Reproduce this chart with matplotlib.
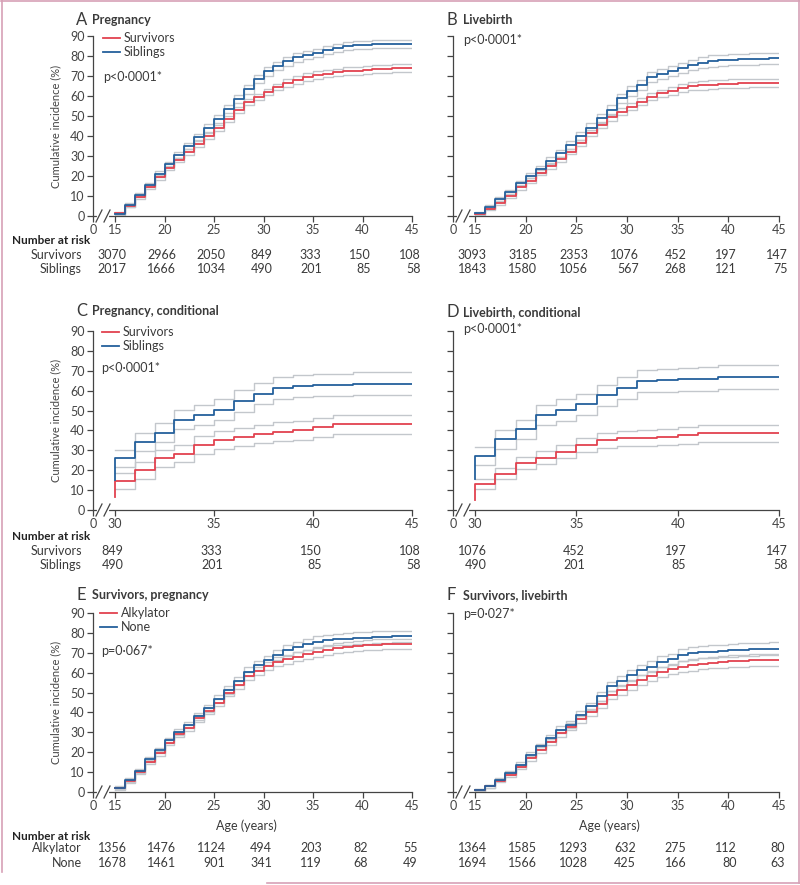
import matplotlib
matplotlib.use('Agg')
import matplotlib.pyplot as plt
from matplotlib.lines import Line2D
from matplotlib.transforms import blended_transform_factory

plt.rcParams['font.family'] = ['Lato', 'DejaVu Sans']

W, H = 800, 885
RED = '#e2424f'
BLUE = '#24609c'
CI_GREY = '#c3c7cc'
TXT = '#3a3a3a'
AXC = '#444444'
FRAME = '#d7a1b6'
GAP_PX = 22

# ── Data ─────────────────────────────────────────────────────────────────────
AGES = list(range(15, 46))
AGES_COND = list(range(30, 46))
RISK_AGES = [15, 20, 25, 30, 35, 40, 45]
RISK_AGES_COND = [30, 35, 40, 45]

# A  Pregnancy
A_SURV = [1.5, 5, 9.5, 14.5, 19.3, 24, 28, 32, 36, 40, 44, 48.5, 53, 57, 59.5, 62,
          64.5, 66.5, 68, 69.5, 70.5, 71.2, 71.8, 72.3, 72.7, 73, 73.3, 73.7, 73.8, 73.8, 73.8]
A_SIB = [1, 5.5, 10.5, 15.5, 21, 25.8, 30.3, 35, 39.5, 44, 48.5, 53.5, 58.5, 63.3, 68.5, 72.3,
         75, 77.3, 79.3, 80.5, 81.5, 83, 84, 85, 85.3, 85.6, 85.8, 86, 86, 86, 86]
A_SURV_HW = [0.5, 0.7, 0.9, 1, 1.1, 1.2, 1.2, 1.3, 1.3, 1.4, 1.4, 1.5, 1.5, 1.6, 1.6, 1.7,
             1.7, 1.8, 1.8, 1.8, 1.9, 1.9, 1.9, 2, 2, 2, 2, 2, 2, 2, 2]
A_SIB_HW = [0.5, 0.8, 1, 1.2, 1.3, 1.4, 1.5, 1.6, 1.7, 1.8, 1.9, 2, 2, 2.1, 2.1, 2.2,
            2.2, 2.2, 2.2, 2.1, 2.1, 2, 2, 2, 2, 2, 2, 2, 2, 2, 2]
A_RISK_SURV = [3070, 2966, 2050, 849, 333, 150, 108]
A_RISK_SIB = [2017, 1666, 1034, 490, 201, 85, 58]

# B  Livebirth
B_SURV = [1, 3.5, 6.5, 10, 14.3, 17.7, 21.7, 25, 28.3, 32.2, 36.3, 41.3, 45.5, 49.3, 52.2, 54.7,
          57.2, 59.7, 61.3, 62.7, 64, 64.8, 65.3, 65.7, 66, 66.2, 66.4, 66.5, 66.5, 66.5, 66.5]
B_SIB = [1.5, 4.5, 8.5, 12, 16.3, 20.2, 23.3, 27.7, 31.3, 35.5, 40, 44.2, 48.8, 53, 58.8, 62.7,
         65.5, 69.5, 71, 72.5, 74, 75.5, 76.7, 77.5, 77.8, 78.1, 78.3, 78.5, 78.7, 78.8, 78.8]
B_SURV_HW = [0.5, 0.7, 0.9, 1, 1.1, 1.2, 1.3, 1.3, 1.4, 1.4, 1.5, 1.5, 1.6, 1.6, 1.7, 1.8,
             1.8, 1.9, 1.9, 2, 2, 2, 2.1, 2.1, 2.1, 2.2, 2.2, 2.2, 2.2, 2.2, 2.2]
B_SIB_HW = [0.5, 0.8, 1, 1.2, 1.3, 1.4, 1.6, 1.7, 1.8, 1.9, 2, 2.1, 2.2, 2.3, 2.4, 2.5,
            2.5, 2.6, 2.6, 2.7, 2.7, 2.7, 2.8, 2.8, 2.8, 2.8, 2.8, 2.8, 2.8, 2.8, 2.8]
B_RISK_SURV = [3093, 3185, 2353, 1076, 452, 197, 147]
B_RISK_SIB = [1843, 1580, 1056, 567, 268, 121, 75]

# C  Pregnancy, conditional (from age 30)
C_SURV_START, C_SIB_START = 6.7, 15
C_SURV = [14.7, 20, 26, 28.4, 32.6, 35.1, 36.8, 38.1, 39.3, 40.1, 41.5, 43, 43, 43, 43, 43]
C_SIB = [26, 34.3, 38.8, 45.5, 47.7, 50.5, 54.8, 58.5, 61.5, 62.2, 62.7, 63, 63.5, 63.5, 63.5, 63.5]
C_SURV_HW = [4, 4.2, 4.3, 4.4, 4.5, 4.5, 4.6, 4.6, 4.7, 4.7, 4.8, 5, 5, 5, 5, 5]
C_SIB_HW = [4.3, 4.6, 4.8, 5, 5, 5.2, 5.3, 5.4, 5.5, 5.5, 5.6, 5.6, 5.7, 5.7, 5.7, 5.7]
C_RISK_SURV = [849, 333, 150, 108]
C_RISK_SIB = [490, 201, 85, 58]

# D  Livebirth, conditional
D_SURV_START, D_SIB_START = 5, 15.4
D_SURV = [12.9, 18.3, 23.5, 26.3, 29.3, 32.5, 35, 36, 36.3, 36.9, 37.5, 38.5, 38.5, 38.5, 38.5, 38.5]
D_SIB = [27.1, 35.5, 40.5, 47.7, 50.3, 53.1, 57.6, 61.5, 64.8, 65.3, 65.7, 66, 66.8, 66.8, 66.8, 66.8]
D_SURV_HW = [2.5, 2.8, 3, 3.2, 3.4, 3.5, 3.6, 3.8, 3.9, 4, 4.1, 4.2, 4.2, 4.2, 4.2, 4.2]
D_SIB_HW = [4.5, 4.8, 5, 5.2, 5.3, 5.4, 5.5, 5.6, 5.7, 5.8, 5.9, 6, 6, 6, 6, 6]
D_RISK_SURV = [1076, 452, 197, 147]
D_RISK_SIB = [490, 201, 85, 58]

# E  Survivors, pregnancy
E_ALK = [2.2, 5.5, 10, 15.2, 19.4, 24.8, 29, 32.3, 37, 40.7, 44.9, 50, 53.7, 58.5, 61, 63.3,
         65.5, 66.8, 68, 69.3, 70.5, 71.3, 72.2, 72.7, 73.3, 73.9, 74.1, 74.3, 74.4, 74.4, 74.4]
E_NONE = [1.8, 6, 10.5, 16.4, 21, 26, 30.3, 33.6, 38.1, 42, 46.7, 51.2, 55.7, 60.4, 63.7, 66.2,
          68.7, 71.2, 72.9, 74.2, 75.4, 76.2, 76.7, 77, 77.4, 77.5, 78, 78, 78.2, 78.2, 78.2]
E_ALK_HW = [0.6, 0.8, 1, 1.1, 1.2, 1.3, 1.4, 1.5, 1.6, 1.7, 1.8, 1.9, 2, 2, 2.1, 2.1,
            2.2, 2.2, 2.3, 2.3, 2.4, 2.4, 2.5, 2.5, 2.5, 2.6, 2.6, 2.6, 2.6, 2.6, 2.6]
E_NONE_HW = [0.6, 0.8, 1, 1.2, 1.3, 1.4, 1.5, 1.6, 1.7, 1.8, 1.9, 2, 2.1, 2.2, 2.3, 2.4,
             2.5, 2.6, 2.7, 2.8, 2.8, 2.9, 2.9, 3, 3, 3, 3, 3, 3, 3, 3]
E_RISK_ALK = [1356, 1476, 1124, 494, 203, 82, 55]
E_RISK_NONE = [1678, 1461, 901, 341, 119, 68, 49]

# F  Survivors, livebirth
F_ALK = [1, 2.8, 5.7, 8.6, 12.7, 16.9, 21.1, 25.3, 29.5, 32.8, 36.5, 40, 44, 48.7, 51.2, 53.7,
         56.2, 58.4, 60.4, 61.8, 62.9, 63.8, 64.6, 65.1, 65.5, 65.8, 66, 66.2, 66.3, 66.3, 66.3]
F_NONE = [1, 2.8, 6.2, 9.5, 13.7, 18.7, 22.9, 27.1, 31.3, 33.8, 38.9, 43, 48.1, 53.1, 55.9, 58.9,
          61.4, 63.1, 65.6, 66.8, 69, 69.8, 70.3, 70.6, 71, 71.2, 71.5, 71.7, 71.9, 72, 72]
F_ALK_HW = [0.5, 0.7, 0.9, 1, 1.1, 1.3, 1.4, 1.5, 1.6, 1.7, 1.8, 1.9, 2, 2.1, 2.2, 2.3,
            2.4, 2.5, 2.6, 2.7, 2.8, 2.8, 2.9, 2.9, 3, 3, 3, 3, 3, 3, 3]
F_NONE_HW = [0.5, 0.7, 0.9, 1, 1.2, 1.3, 1.4, 1.5, 1.7, 1.8, 1.9, 2, 2.1, 2.2, 2.3, 2.4,
             2.5, 2.6, 2.7, 2.8, 2.9, 3, 3, 3.1, 3.1, 3.2, 3.2, 3.2, 3.2, 3.2, 3.2]
F_RISK_ALK = [1364, 1585, 1293, 632, 275, 112, 80]
F_RISK_NONE = [1694, 1566, 1028, 425, 166, 80, 63]

fig = plt.figure(figsize=(W / 100, H / 100), dpi=100)


def px_axes(l, t, r, b):
    return fig.add_axes([l / W, 1 - b / H, (r - l) / W, (b - t) / H])


def ftext(x, y, s, **kw):
    kw.setdefault('color', TXT)
    kw.setdefault('va', 'center')
    fig.text(x / W, 1 - y / H, s, **kw)


def setup(ax, first, xt, ylab):
    pos = ax.get_position()
    wpx, hpx = pos.width * W, pos.height * H
    ppy = (wpx - GAP_PX) / (45 - first)
    xmin = first - GAP_PX / ppy
    ax.set_xlim(xmin, 45)
    ax.set_ylim(0, 90)
    ax.set_xticks([xmin] + xt)
    ax.set_xticklabels(['0'] + [str(v) for v in xt])
    ax.set_yticks(range(0, 91, 10))
    if ylab:
        ax.set_ylabel('Cumulative incidence (%)', fontsize=8, color=AXC, labelpad=6)
    else:
        ax.set_yticklabels([])
    ax.spines[['top', 'right']].set_visible(False)
    for s in ('left', 'bottom'):
        ax.spines[s].set_color(AXC)
        ax.spines[s].set_linewidth(0.9)
    ax.tick_params(direction='out', length=4, width=0.9, color=AXC,
                   labelsize=9, labelcolor=AXC, pad=2)
    # axis break "//"
    tr = blended_transform_factory(ax.transData, ax.transAxes)
    ax.plot([xmin + 6 / ppy, xmin + 14 / ppy], [0, 0], color='white', lw=3,
            transform=tr, clip_on=False, zorder=5)
    for c in (6, 14):
        ax.plot([xmin + (c - 3) / ppy, xmin + (c + 3) / ppy], [-6 / hpx, 6 / hpx],
                color=AXC, lw=0.9, transform=tr, clip_on=False, zorder=6)
    return ppy, hpx


def curve(ax, ages, vals, hw, color, start=None):
    lo = [v - h for v, h in zip(vals, hw)]
    hi = [v + h for v, h in zip(vals, hw)]
    ax.step(ages, lo, where='post', color=CI_GREY, lw=1.0, zorder=2)
    ax.step(ages, hi, where='post', color=CI_GREY, lw=1.0, zorder=2)
    xs, ys = list(ages), list(vals)
    if start is not None:
        xs, ys = [ages[0]] + xs, [start] + ys
    ax.step(xs, ys, where='post', color=color, lw=1.3, zorder=3)


def risk_table(ax, ppy, hpx, cols, rows, offs):
    tr = blended_transform_factory(ax.transData, ax.transAxes)
    for i, c in enumerate(cols):
        n = max(len(str(r[i])) for r in rows)
        for r, dy in zip(rows, offs):
            ax.text(c + n * 2.9 / ppy, -dy / hpx, str(r[i]), transform=tr, ha='right',
                    va='center', fontsize=9, color=TXT)


def risk_labels(y0, hdr, r1, r2, names):
    ftext(12, y0 + hdr, 'Number at risk', fontsize=8.5, fontweight='bold', ha='left',
          color='#222222')
    ftext(82, y0 + r1, names[0], fontsize=9, ha='right')
    ftext(82, y0 + r2, names[1], fontsize=9, ha='right')


def panel_title(x, y, letter, title):
    ftext(x, y, letter, fontsize=12, ha='left')
    ftext(x + 16, y, title, fontsize=9, fontweight='bold', ha='left')


def legend(x, y, items):
    for i, (lab, col) in enumerate(items):
        yy = 1 - (y + 14 * i) / H
        fig.add_artist(Line2D([x / W, (x + 17) / W], [yy, yy], color=col, lw=1.3))
        ftext(x + 21, y + 14 * i, lab, fontsize=9, ha='left')


LEFT = (93, 412)
RIGHT = (453, 779)
FULL_TICKS = [15, 20, 25, 30, 35, 40, 45]
COND_TICKS = [30, 35, 40, 45]

# ── A ───────────────────────────────────────────────────────────────────────
axA = px_axes(LEFT[0], 36, LEFT[1], 216)
ppy, hpx = setup(axA, 15, FULL_TICKS, True)
curve(axA, AGES, A_SURV, A_SURV_HW, RED)
curve(axA, AGES, A_SIB, A_SIB_HW, BLUE)
risk_table(axA, ppy, hpx, RISK_AGES, [A_RISK_SURV, A_RISK_SIB], [39, 53])
risk_labels(216, 25, 39, 53, ('Survivors', 'Siblings'))
panel_title(76, 20, 'A', 'Pregnancy')
legend(103, 38, [('Survivors', RED), ('Siblings', BLUE)])
ftext(103, 77, 'p<0·0001*', fontsize=9, ha='left')

# ── B ───────────────────────────────────────────────────────────────────────
axB = px_axes(RIGHT[0], 36, RIGHT[1], 216)
ppy, hpx = setup(axB, 15, FULL_TICKS, False)
curve(axB, AGES, B_SURV, B_SURV_HW, RED)
curve(axB, AGES, B_SIB, B_SIB_HW, BLUE)
risk_table(axB, ppy, hpx, RISK_AGES, [B_RISK_SURV, B_RISK_SIB], [39, 53])
panel_title(447, 20, 'B', 'Livebirth')
ftext(463, 40, 'p<0·0001*', fontsize=9, ha='left')

# ── C ───────────────────────────────────────────────────────────────────────
axC = px_axes(LEFT[0], 331, LEFT[1], 510)
ppy, hpx = setup(axC, 30, COND_TICKS, True)
curve(axC, AGES_COND, C_SURV, C_SURV_HW, RED, C_SURV_START)
curve(axC, AGES_COND, C_SIB, C_SIB_HW, BLUE, C_SIB_START)
risk_table(axC, ppy, hpx, RISK_AGES_COND, [C_RISK_SURV, C_RISK_SIB], [41, 55])
risk_labels(510, 27, 41, 55, ('Survivors', 'Siblings'))
panel_title(76, 311, 'C', 'Pregnancy, conditional')
legend(102, 332, [('Survivors', RED), ('Siblings', BLUE)])
ftext(101, 368, 'p<0·0001*', fontsize=9, ha='left')

# ── D ───────────────────────────────────────────────────────────────────────
axD = px_axes(RIGHT[0], 331, RIGHT[1], 510)
ppy, hpx = setup(axD, 30, COND_TICKS, False)
curve(axD, AGES_COND, D_SURV, D_SURV_HW, RED, D_SURV_START)
curve(axD, AGES_COND, D_SIB, D_SIB_HW, BLUE, D_SIB_START)
risk_table(axD, ppy, hpx, RISK_AGES_COND, [D_RISK_SURV, D_RISK_SIB], [41, 55])
panel_title(447, 312, 'D', 'Livebirth, conditional')
ftext(463, 329, 'p<0·0001*', fontsize=9, ha='left')

# ── E ───────────────────────────────────────────────────────────────────────
axE = px_axes(LEFT[0], 613, LEFT[1], 792)
ppy, hpx = setup(axE, 15, FULL_TICKS, True)
curve(axE, AGES, E_ALK, E_ALK_HW, RED)
curve(axE, AGES, E_NONE, E_NONE_HW, BLUE)
risk_table(axE, ppy, hpx, RISK_AGES, [E_RISK_ALK, E_RISK_NONE], [56, 71])
risk_labels(792, 44, 56, 71, ('Alkylator', 'None'))
panel_title(76, 595, 'E', 'Survivors, pregnancy')
legend(100, 613, [('Alkylator', RED), ('None', BLUE)])
ftext(101, 651, 'p=0·067*', fontsize=9, ha='left')
axE.text(0.48, -34 / hpx, 'Age (years)', transform=axE.transAxes, ha='center',
         va='center', fontsize=9, color=TXT)

# ── F ───────────────────────────────────────────────────────────────────────
axF = px_axes(RIGHT[0], 613, RIGHT[1], 792)
ppy, hpx = setup(axF, 15, FULL_TICKS, False)
curve(axF, AGES, F_ALK, F_ALK_HW, RED)
curve(axF, AGES, F_NONE, F_NONE_HW, BLUE)
risk_table(axF, ppy, hpx, RISK_AGES, [F_RISK_ALK, F_RISK_NONE], [56, 71])
panel_title(447, 595, 'F', 'Survivors, livebirth')
ftext(463, 614, 'p=0·027*', fontsize=9, ha='left')
axF.text(0.48, -34 / hpx, 'Age (years)', transform=axF.transAxes, ha='center',
         va='center', fontsize=9, color=TXT)

# ── Page frame ──────────────────────────────────────────────────────────────
for xs, ys in [([1, 800], [0.5, 0.5]), ([1.5, 1.5], [0, 872]),
               ([798.5, 798.5], [0, 883]), ([267, 800], [883, 883])]:
    fig.add_artist(Line2D([x / W for x in xs], [1 - y / H for y in ys],
                          color=FRAME, lw=1.2))

plt.savefig('out.png', dpi=100)
plt.close()
